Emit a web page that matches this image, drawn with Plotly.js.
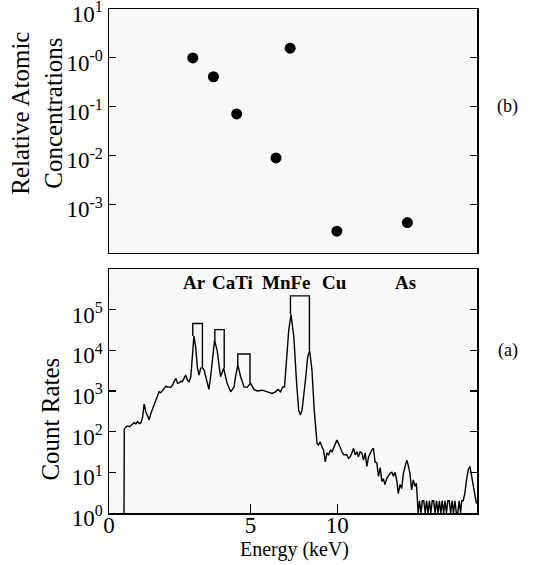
<!DOCTYPE html>
<html>
<head>
<meta charset="utf-8">
<script src="https://cdn.plot.ly/plotly-3.0.1.min.js"></script>
<style>html,body{margin:0;padding:0;background:#fff;}#chart{width:544px;height:565px;}</style>
</head>
<body>
<div id="chart"></div>
<script>
// (b) relative atomic concentrations
const elements = ['Ar', 'Ca', 'Ti', 'Mn', 'Fe', 'Cu', 'As'];
const elementEnergy = [2.96, 3.69, 4.51, 5.90, 6.40, 8.05, 10.54];
const relConc = [1.0, 0.41, 0.071, 0.0089, 1.58, 0.00028, 0.00042];

// (a) spectrum, energy in keV and count rates
const energy = [0.53, 0.54, 0.60, 0.66, 0.72, 0.77, 0.83, 0.89, 0.95, 1.01, 1.07, 1.13, 1.19, 1.24, 1.30, 1.36, 1.42, 1.48, 1.54, 1.60, 1.65, 1.71, 1.77, 1.83, 1.89, 1.95, 2.01, 2.07, 2.12, 2.18, 2.24, 2.30, 2.36, 2.42, 2.48, 2.54, 2.59, 2.65, 2.71, 2.77, 2.83, 2.89, 2.95, 3.00, 3.06, 3.12, 3.18, 3.24, 3.30, 3.36, 3.42, 3.53, 3.59, 3.67, 3.73, 3.82, 3.94, 4.05, 4.17, 4.30, 4.42, 4.46, 4.55, 4.65, 4.77, 4.88, 5.00, 5.12, 5.24, 5.41, 5.59, 5.76, 5.88, 5.97, 6.06, 6.14, 6.20, 6.25, 6.29, 6.35, 6.43, 6.53, 6.62, 6.70, 6.76, 6.82, 6.94, 7.02, 7.09, 7.17, 7.25, 7.35, 7.40, 7.46, 7.52, 7.58, 7.64, 7.70, 7.76, 7.82, 7.88, 7.93, 7.99, 8.05, 8.11, 8.17, 8.23, 8.29, 8.40, 8.46, 8.52, 8.58, 8.64, 8.70, 8.76, 8.81, 8.87, 8.93, 8.99, 9.05, 9.11, 9.17, 9.23, 9.28, 9.34, 9.40, 9.46, 9.52, 9.58, 9.64, 9.69, 9.75, 9.81, 9.87, 9.93, 9.99, 10.05, 10.11, 10.17, 10.22, 10.28, 10.34, 10.40, 10.46, 10.52, 10.57, 10.63, 10.69, 10.75, 10.81, 10.86, 10.92, 10.97, 11.02, 11.07, 11.12, 11.17, 11.22, 11.27, 11.32, 11.37, 11.42, 11.47, 11.52, 11.57, 11.62, 11.67, 11.72, 11.77, 11.82, 11.87, 11.92, 11.97, 12.02, 12.07, 12.12, 12.17, 12.22, 12.27, 12.32, 12.37, 12.42, 12.46, 12.51, 12.57, 12.63, 12.69, 12.75, 12.81, 12.87, 12.92, 12.98];
const counts = [1, 115, 132, 138, 132, 141, 151, 166, 155, 178, 158, 166, 234, 479, 309, 234, 195, 282, 372, 447, 603, 794, 955, 912, 1047, 1148, 1318, 1230, 1259, 1230, 1380, 1698, 2042, 1549, 1585, 1738, 1698, 2042, 2455, 1862, 1698, 2239, 8318, 22400, 12300, 3981, 2455, 3631, 3802, 3236, 2239, 1096, 2239, 8318, 17800, 10000, 2239, 3631, 1549, 955, 1259, 2042, 4365, 2239, 1259, 1230, 1549, 1096, 1000, 1047, 955, 871, 955, 1096, 955, 1259, 1259, 3236, 8318, 31600, 75900, 21400, 1862, 339, 257, 339, 1862, 6918, 9772, 3236, 339, 51, 47, 56, 43, 35, 18, 30, 27, 35, 32, 39, 51, 62, 51, 39, 32, 27, 27, 22, 24, 30, 39, 27, 32, 24, 32, 30, 20, 30, 14, 24, 30, 35, 39, 18, 17, 8, 13, 6, 7, 5, 7, 8.5, 9.5, 10, 8, 10, 6, 3, 5, 4, 9.5, 14, 20, 15, 9.5, 3.7, 6.5, 4.5, 5.4, 1, 2, 1, 2, 2, 1, 2, 1, 2, 1, 2, 2, 1, 2, 1, 2, 1, 2, 1, 2, 1, 2, 2, 1, 2, 1, 2, 1, 1, 2, 1, 2, 2, 3, 6.5, 11.5, 14, 7.8, 5.4, 3, 1.7];

// peak-group boxes (Kα to Kβ)
const boxLabels = ['Ar', 'Ca', 'Ti', 'Fe'];
const boxLeft = [2.96, 3.74, 4.55, 6.41];
const boxRight = [3.30, 4.07, 4.98, 7.08];
const boxTop = [45700, 32400, 8100, 219000];
const boxLeftBase = [22400, 17800, 4365, 75900];
const boxRightBase = [3802, 3631, 1549, 9772];

// element labels above the spectrum
const peakLabels = ['Ar', 'CaTi', 'MnFe', 'Cu', 'As'];
const peakLabelEnergy = [3.03, 4.37, 6.27, 7.96, 10.46];

// tick labels
const topTickVals = [10, 1, 0.1, 0.01, 0.001];
const topTickText = ['10<sup>1</sup>', '10<sup>-0</sup>', '10<sup>-1</sup>', '10<sup>-2</sup>', '10<sup>-3</sup>'];
const botTickVals = [1, 10, 100, 1000, 10000, 100000];
const botTickText = ['10<sup>0</sup>', '10<sup>1</sup>', '10<sup>2</sup>', '10<sup>3</sup>', '10<sup>4</sup>', '10<sup>5</sup>'];
const xTickVals = [0, 5, 8.06];
const xTickText = ['0', '5', '10'];

const FONT = '"Liberation Serif", "Times New Roman", serif';

const bx = [], by = [];
for (let i = 0; i < boxLeft.length; i++) {
  bx.push(boxLeft[i], boxLeft[i], boxRight[i], boxRight[i], null);
  by.push(boxLeftBase[i], boxTop[i], boxTop[i], boxRightBase[i], null);
}

const traces = [
  {x: elementEnergy, y: relConc, text: elements, type: 'scatter', mode: 'markers',
   marker: {color: '#000', size: 11}, xaxis: 'x2', yaxis: 'y2', hoverinfo: 'text+y'},
  {x: energy, y: counts, type: 'scatter', mode: 'lines',
   line: {color: '#000', width: 1.4}, xaxis: 'x', yaxis: 'y'},
  {x: bx, y: by, type: 'scatter', mode: 'lines', connectgaps: false,
   line: {color: '#000', width: 1.4}, xaxis: 'x', yaxis: 'y'}
];

const annotations = [];
for (let i = 0; i < peakLabels.length; i++) {
  annotations.push({x: peakLabelEnergy[i], y: 5.68, xref: 'x', yref: 'y', text: '<b>' + peakLabels[i] + '</b>',
    xanchor: 'center', yanchor: 'middle',
    showarrow: false, font: {family: FONT, size: 19, color: '#000'}});
}
annotations.push(
  {x: -0.196, y: 0.794, xref: 'paper', yref: 'paper', text: 'Relative Atomic<br>Concentrations', textangle: -90,
   xanchor: 'center', yanchor: 'middle', showarrow: false, font: {family: FONT, size: 25, color: '#000'}},
  {x: -0.158, y: 0.187, xref: 'paper', yref: 'paper', text: 'Count Rates', textangle: -90,
   xanchor: 'center', yanchor: 'middle', showarrow: false, font: {family: FONT, size: 25, color: '#000'}},
  {x: 0.505, y: -0.073, xref: 'paper', yref: 'paper', text: 'Energy (keV)', showarrow: false,
   xanchor: 'center', yanchor: 'middle', font: {family: FONT, size: 20, color: '#000'}},
  {x: 1.084, y: 0.806, xref: 'paper', yref: 'paper', text: '(b)', showarrow: false,
   xanchor: 'center', yanchor: 'middle', font: {family: FONT, size: 18, color: '#000'}},
  {x: 1.084, y: 0.323, xref: 'paper', yref: 'paper', text: '(a)', showarrow: false,
   xanchor: 'center', yanchor: 'middle', font: {family: FONT, size: 18, color: '#000'}}
);

const axisCommon = {showgrid: false, zeroline: false, showline: true, linecolor: '#000', linewidth: 1.5,
  tickfont: {family: FONT, size: 23, color: '#000'}, tickcolor: '#000', tickwidth: 1.2,
  ticklabeloverflow: 'allow'};

const layout = {
  width: 544, height: 565,
  margin: {l: 109, r: 67, t: 9, b: 52},
  paper_bgcolor: '#fff', plot_bgcolor: '#f9f9f9',
  showlegend: false,
  font: {family: FONT, color: '#000'},
  xaxis: Object.assign({}, axisCommon, {range: [0, 13], domain: [0, 1], anchor: 'y', mirror: true,
    ticks: 'inside', ticklen: 9, tickmode: 'array', tickvals: xTickVals, ticktext: xTickText,
    ticklabelstandoff: -9}),
  yaxis: Object.assign({}, axisCommon, {type: 'log', range: [0, 6], domain: [0, 0.4841], anchor: 'x',
    mirror: 'ticks', ticks: 'inside', ticklen: 7, tickmode: 'array', tickvals: botTickVals, ticktext: botTickText,
    ticklabelshift: 5}),
  xaxis2: Object.assign({}, axisCommon, {range: [0, 13], domain: [0, 1], anchor: 'y2', mirror: true,
    ticks: '', showticklabels: false}),
  yaxis2: Object.assign({}, axisCommon, {type: 'log', range: [-4, 1.002], domain: [0.5159, 1], anchor: 'x2',
    mirror: 'ticks', ticks: 'inside', ticklen: 7, tickmode: 'array', tickvals: topTickVals, ticktext: topTickText,
    ticklabelshift: 5}),
  annotations: annotations
};

Plotly.newPlot('chart', traces, layout, {displayModeBar: false, staticPlot: true});
</script>
</body>
</html>
